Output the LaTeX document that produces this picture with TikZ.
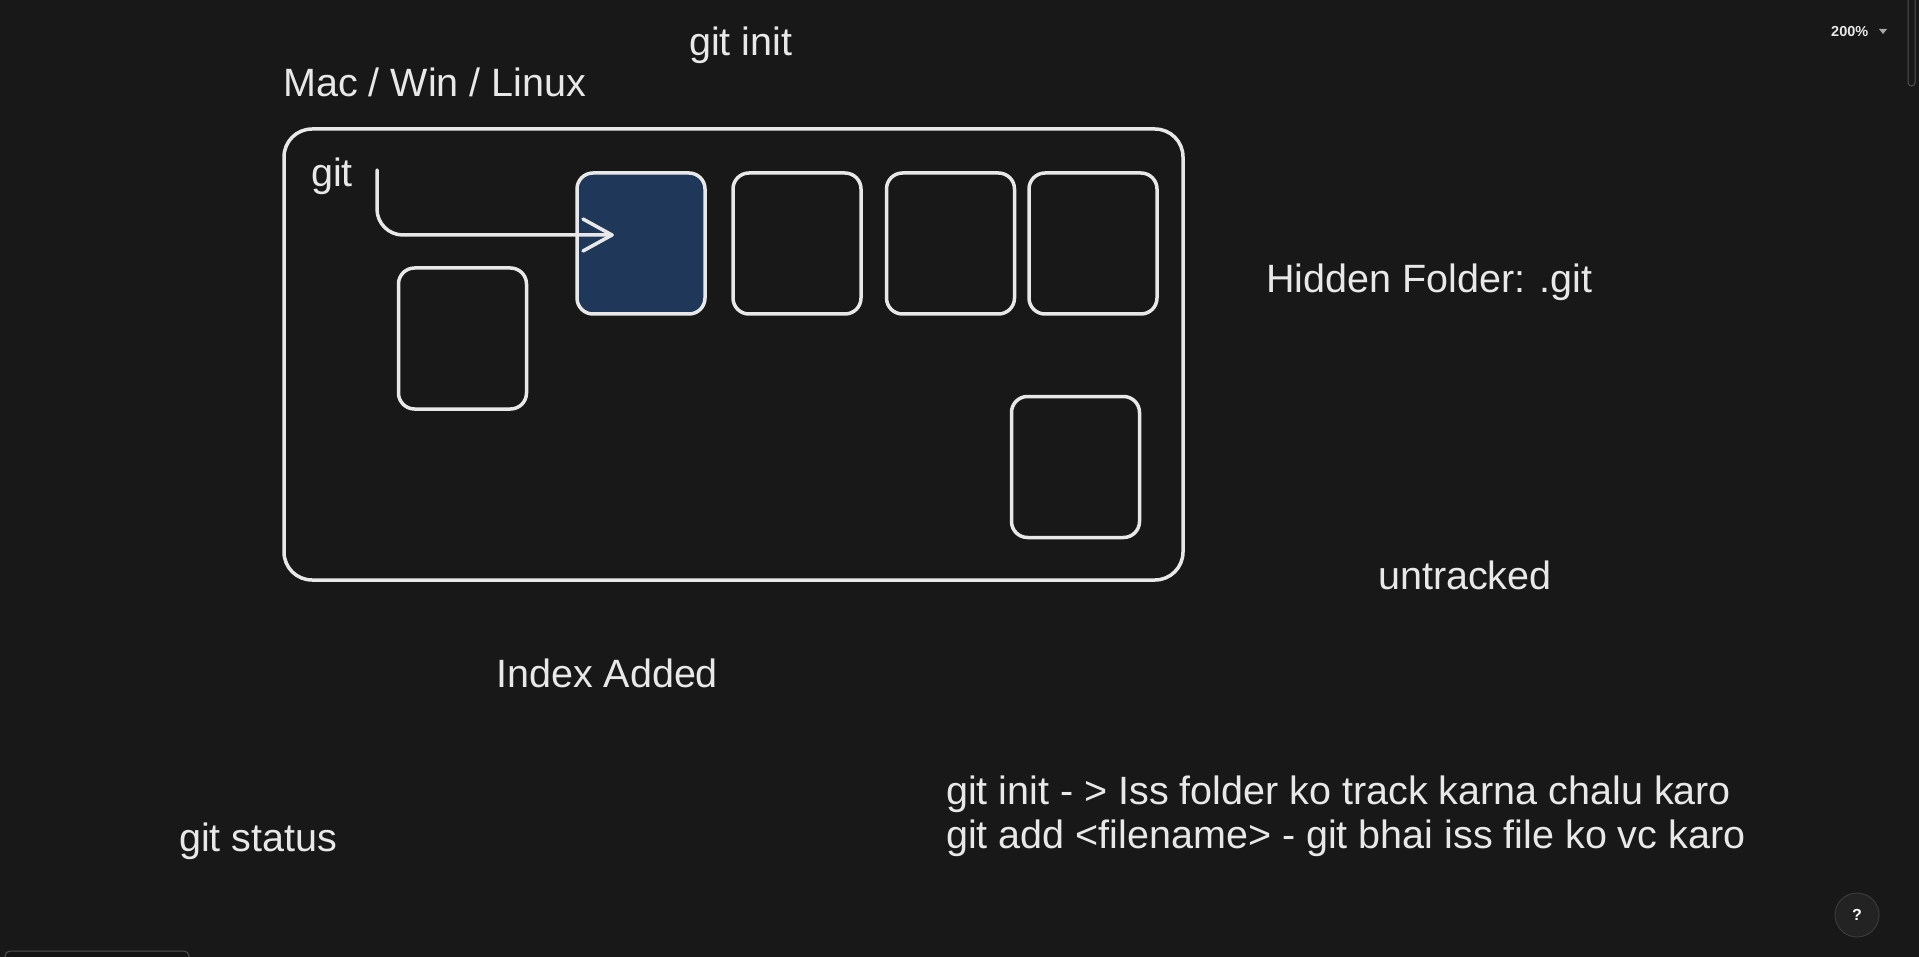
\documentclass[tikz,border=0pt]{standalone}
\usepackage{fontspec}
\setmainfont{Liberation Sans}
\usetikzlibrary{arrows.meta}
\definecolor{bgc}{RGB}{24,24,24}
\definecolor{ink}{RGB}{232,232,232}
\definecolor{navy}{RGB}{31,56,90}
\definecolor{uigrey}{RGB}{80,80,80}
\definecolor{btnfill}{RGB}{35,35,35}
\definecolor{btnline}{RGB}{58,58,58}
\tikzset{
  sketch/.style={draw=ink, line width=3.5pt, line cap=round, line join=round},
  frame/.style={sketch, rounded corners=28pt},
  filebox/.style={sketch, rounded corners=16pt, minimum width=128pt, minimum height=141pt, inner sep=0pt},
  label/.style={text=ink, font=\fontsize{39.5}{47}\selectfont, anchor=base west, inner sep=0pt},
  arrowline/.style={sketch},
}
\begin{document}
\begin{tikzpicture}[x=1pt,y=-1pt]
\useasboundingbox[fill=bgc] (0,0) rectangle (1919,957);

% outer machine frame
\node[frame, minimum width=899pt, minimum height=451pt, inner sep=0pt] (frame) at (733.5,354.5) {};

% file boxes
\node[filebox, fill=navy] (b1) at (641,243.5) {};
\node[filebox] (b2) at (797,243.5) {};
\node[filebox] (b3) at (950.5,243.5) {};
\node[filebox] (b4) at (1093,243.5) {};
\node[filebox] (b5) at (462.5,338.5) {};
\node[filebox] (b6) at (1075.5,467) {};

% texts
\node[label] (gitinit) at (689,56) {git init};
\node[label] (os) at (283,96.5) {Mac / Win / Linux};
\node[label] (gitlbl) at (311,187) {git};
\node[label] (hidden) at (1266,293) {Hidden Folder: .git};
\node[label] (untracked) at (1378,589) {untracked};
\node[label] (index) at (496,687) {Index Added};
\node[label] (status) at (179,851) {git status};
\node[label] (l1) at (946,804.5) {git init - > Iss folder ko track karna chalu karo};
\node[label] (l2) at (946,848.5) {git add <filename> - git bhai iss file ko vc karo};

% arrow from git into first box
\coordinate (arrstart) at (377,170);
\coordinate (arrend) at (612,235);
\draw[arrowline, rounded corners=26pt] (arrstart) |- (arrend);
\draw[arrowline] (arrend) -- ++(-29,-16);
\draw[arrowline] (arrend) -- ++(-29,16);

% UI chrome
\node[text=ink, font=\bfseries\fontsize{14.5}{16}\selectfont, anchor=base west, inner sep=0pt] (zoom) at (1831,37) {200\%};
\fill[gray!70] (1879,29) -- (1887,29) -- (1883,34) -- cycle;
\draw[uigrey, line width=1pt, rounded corners=3.5pt] (1908,-6) rectangle (1915,86);
\node[circle, fill=btnfill, draw=btnline, line width=1pt, minimum size=44pt, inner sep=0pt, text=white, font=\bfseries\fontsize{16}{18}\selectfont] (help) at (1857,915) {?};
\draw[uigrey, fill=black!92, line width=1pt, rounded corners=5pt] (5,962) rectangle (189,951);
\end{tikzpicture}
\end{document}
